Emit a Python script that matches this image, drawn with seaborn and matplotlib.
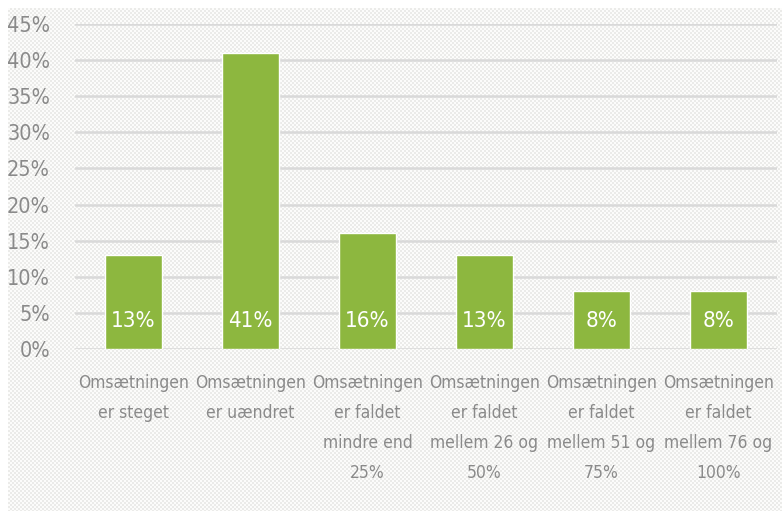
import numpy as np
import pandas as pd
import matplotlib
matplotlib.use("Agg")
import matplotlib.pyplot as plt
from matplotlib import font_manager as fm
import seaborn as sns

categories = [
    "Omsætningen\ner steget",
    "Omsætningen\ner uændret",
    "Omsætningen\ner faldet\nmindre end\n25%",
    "Omsætningen\ner faldet\nmellem 26 og\n50%",
    "Omsætningen\ner faldet\nmellem 51 og\n75%",
    "Omsætningen\ner faldet\nmellem 76 og\n100%",
]
values = [13, 41, 16, 13, 8, 8]
bar_labels = ["13%", "41%", "16%", "13%", "8%", "8%"]
yticks = [0, 5, 10, 15, 20, 25, 30, 35, 40, 45]
ytick_labels = ["0%", "5%", "10%", "15%", "20%", "25%", "30%", "35%", "40%", "45%"]

sns.set_theme(style="white")
names = {f.name for f in fm.fontManager.ttflist}
if "Liberation Sans Narrow" in names:
    FONT = dict(family="Liberation Sans Narrow")
else:
    FONT = dict(family="DejaVu Sans", stretch="condensed")
plt.rcParams["font.family"] = [FONT["family"], "DejaVu Sans"]
STRETCH = FONT.get("stretch", "normal")

W, H = 782, 511
fig = plt.figure(figsize=(W / 100, H / 100), dpi=100, facecolor="white")

# checker background
bg = fig.add_axes([8 / W, 0, 1 - 8 / W, 1 - 8 / H])
hh, ww = H - 8, W - 8
yy, xx = np.mgrid[0:hh, 0:ww]
chk = (((xx // 2) + (yy // 2)) % 2).astype(float)
img = np.where(chk[..., None] > 0, np.array([0.925, 0.925, 0.915]), np.array([0.99, 0.99, 0.985]))
bg.imshow(img, aspect="auto", interpolation="nearest")
bg.set_axis_off()

ax = fig.add_axes([75 / W, 1 - 349 / H, 702 / W, 325 / H])
ax.patch.set_alpha(0)
df = pd.DataFrame({"cat": categories, "val": values})
sns.barplot(data=df, x="cat", y="val", color="#8DB73F", saturation=1, width=0.49, ax=ax, zorder=3)

ax.set_ylim(0, 45)
ax.set_xlim(-0.5, 5.5)
ax.set_yticks(yticks)
ax.set_yticklabels(ytick_labels)
ax.yaxis.grid(True, color="#d9d9d9", linewidth=1.8, zorder=0)
ax.set_axisbelow(True)
for s in ax.spines.values():
    s.set_visible(False)
ax.tick_params(axis="y", length=0, pad=18, labelsize=15.5, labelcolor="#8a8a8a")
ax.tick_params(axis="x", length=0, pad=18, labelsize=12.5, labelcolor="#8a8a8a")
for t in ax.get_xticklabels():
    t.set_linespacing(1.85)
    t.set_fontstretch(STRETCH)
for t in ax.get_yticklabels():
    t.set_fontstretch(STRETCH)
ax.set_xlabel("")
ax.set_ylabel("")

for i, lab in enumerate(bar_labels):
    ax.annotate(lab, (i, 0), xytext=(0, 20), textcoords="offset points",
                ha="center", va="center", color="white", fontsize=16,
                fontstretch=STRETCH, zorder=5)

fig.savefig("out.png", dpi=100, facecolor="white")
